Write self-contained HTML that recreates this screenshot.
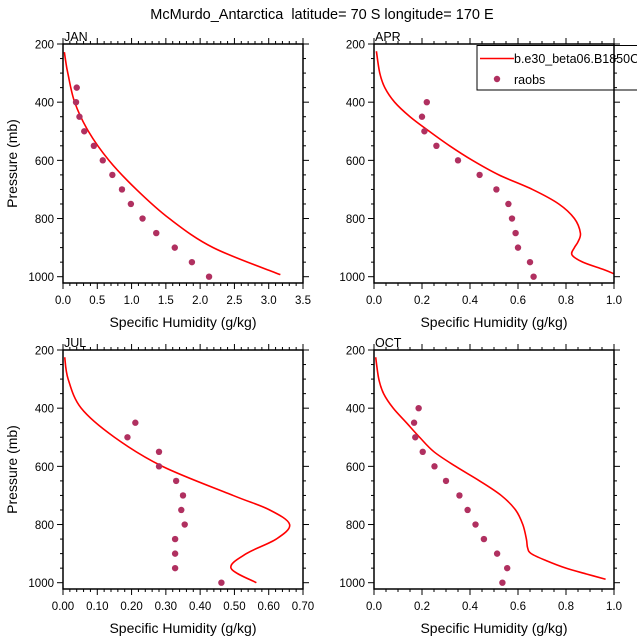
<!DOCTYPE html>
<html><head><meta charset="utf-8"><style>
body{margin:0;background:#fff}
svg{display:block;font-family:"Liberation Sans",sans-serif}
</style></head><body>
<svg id="chart" width="637" height="639" viewBox="0 0 637 639" xmlns="http://www.w3.org/2000/svg">
<text x="322" y="19" text-anchor="middle" font-size="14.5">McMurdo_Antarctica&#160; latitude= 70 S longitude= 170 E</text>
</svg>
<script>
// Pressure levels (mb)
const obsP = [350,400,450,500,550,600,650,700,750,800,850,900,950,1000];
const janObs = [0.20,0.19,0.24,0.31,0.45,0.58,0.72,0.86,0.99,1.16,1.36,1.63,1.88,2.13];
const janModelP = [228,260,300,400,500,600,700,800,900,993];
const janModel = [0.02,0.04,0.07,0.17,0.37,0.67,1.07,1.55,2.19,3.17];

const aprObsP = [400,450,500,550,600,650,700,750,800,850,900,950,1000];
const aprObs = [0.22,0.20,0.21,0.26,0.35,0.44,0.51,0.56,0.575,0.59,0.60,0.65,0.665];
const aprModelP = [225,300,350,400,450,500,550,600,650,700,750,800,850,880,900,925,950,975,990];
const aprModel = [0.01,0.024,0.045,0.086,0.15,0.23,0.315,0.41,0.52,0.66,0.77,0.835,0.86,0.85,0.835,0.825,0.87,0.955,1.0];

const julObsP = [450,500,550,600,650,700,750,800,850,900,950,1000];
const julObs = [0.211,0.188,0.280,0.280,0.330,0.350,0.345,0.355,0.327,0.327,0.327,0.462];
const julModelP = [225,300,400,500,600,700,750,800,850,900,950,1000];
const julModel = [0.005,0.015,0.053,0.15,0.29,0.496,0.603,0.661,0.622,0.535,0.49,0.564];

const octObsP = [400,450,500,550,600,650,700,750,800,850,900,950,1000];
const octObs = [0.186,0.167,0.172,0.203,0.252,0.30,0.356,0.39,0.423,0.458,0.513,0.555,0.535];
const octModelP = [225,300,350,400,450,500,550,600,650,700,750,800,850,880,900,925,950,970,988];
const octModel = [0.007,0.02,0.04,0.08,0.135,0.19,0.25,0.34,0.44,0.53,0.59,0.62,0.635,0.64,0.655,0.72,0.80,0.885,0.965];

const janTicks = ["0.0","0.5","1.0","1.5","2.0","2.5","3.0","3.5"];
const aprTicks = ["0.0","0.2","0.4","0.6","0.8","1.0"];
const julTicks = ["0.00","0.10","0.20","0.30","0.40","0.50","0.60","0.70"];
const yTicks = [200,400,600,800,1000];

const NS="http://www.w3.org/2000/svg";
const svg=document.getElementById('chart');
function mk(tag,attrs,parent){const e=document.createElementNS(NS,tag);for(const k in attrs)e.setAttribute(k,attrs[k]);(parent||svg).appendChild(e);return e;}

const panels=[
 {name:'jan',label:'JAN',x0:63,y0:44,xmax:3.5,xticks:janTicks,major:0.5,minor:0.1,obsP:obsP,obs:janObs,mP:janModelP,m:janModel,left:true},
 {name:'apr',label:'APR',x0:374,y0:44,xmax:1.0,xticks:aprTicks,major:0.2,minor:0.05,obsP:aprObsP,obs:aprObs,mP:aprModelP,m:aprModel,legend:true},
 {name:'jul',label:'JUL',x0:63,y0:350,xmax:0.7,xticks:julTicks,major:0.1,minor:0.02,obsP:julObsP,obs:julObs,mP:julModelP,m:julModel,left:true},
 {name:'oct',label:'OCT',x0:374,y0:350,xmax:1.0,xticks:aprTicks,major:0.2,minor:0.05,obsP:octObsP,obs:octObs,mP:octModelP,m:octModel}
];
const W=240,H=239,PS=232.7/800;

function smooth(pts){
 let d='M'+pts[0][0].toFixed(2)+','+pts[0][1].toFixed(2);
 for(let i=0;i<pts.length-1;i++){
  const p0=pts[Math.max(0,i-1)],p1=pts[i],p2=pts[i+1],p3=pts[Math.min(pts.length-1,i+2)];
  const c1=[p1[0]+(p2[0]-p0[0])/6,p1[1]+(p2[1]-p0[1])/6];
  const c2=[p2[0]-(p3[0]-p1[0])/6,p2[1]-(p3[1]-p1[1])/6];
  d+='C'+c1[0].toFixed(2)+','+c1[1].toFixed(2)+' '+c2[0].toFixed(2)+','+c2[1].toFixed(2)+' '+p2[0].toFixed(2)+','+p2[1].toFixed(2);
 }
 return d;
}

panels.forEach(p=>{
 const g=mk('g',{});
 
 
 const sx=v=>p.x0+v/p.xmax*W;
 const sy=v=>p.y0+(v-200)*PS;
 const clipId='clip-'+p.name;
 const cp=mk('clipPath',{id:clipId},g);
 mk('rect',{x:p.x0,y:p.y0,width:W,height:H},cp);
 const pts=p.mP.map((pp,i)=>[sx(p.m[i]),sy(pp)]);
 const line=mk('path',{d:smooth(pts),fill:'none',stroke:'#ff0000','stroke-width':1.6,'clip-path':'url(#'+clipId+')'},g);
 
 
 p.obsP.forEach((pp,i)=>{
  const c=mk('circle',{cx:sx(p.obs[i]),cy:sy(pp),r:3.2,fill:'#b03060'},g);
  
  
 });
 if(p.legend){
  const lg=mk('g',{},g);
  
  
  mk('rect',{x:477,y:45.5,width:200,height:44.5,fill:'#fff',stroke:'#000','stroke-width':1},lg);
  mk('line',{x1:480,y1:58.5,x2:514,y2:58.5,stroke:'#ff0000','stroke-width':1.6},lg);
  const t1=mk('text',{x:514,y:63,'font-size':12.5},lg);t1.textContent='b.e30_beta06.B1850C';
  
  
  mk('circle',{cx:497,cy:79,r:3.2,fill:'#b03060'},lg);
  const t2=mk('text',{x:514,y:84,'font-size':12.5},lg);t2.textContent='raobs';
  
  
 }
 const fr=mk('rect',{x:p.x0,y:p.y0,width:W,height:H,fill:'none',stroke:'#000','stroke-width':1.5},g);
 
 
 const nMin=Math.round(p.xmax/p.minor);
 for(let i=0;i<=nMin;i++){
  const v=i*p.minor, x=sx(v);
  const isMaj=Math.abs(v/p.major-Math.round(v/p.major))<1e-6;
  const L=isMaj?6:3;
  mk('line',{x1:x,y1:p.y0+H,x2:x,y2:p.y0+H+L,stroke:'#000','stroke-width':1},g);
  mk('line',{x1:x,y1:p.y0,x2:x,y2:p.y0-L,stroke:'#000','stroke-width':1},g);
 }
 p.xticks.forEach((lab,i)=>{
  const t=mk('text',{x:sx(i*p.major),y:p.y0+H+21,'text-anchor':'middle','font-size':11.5},g);
  t.textContent=lab;
  
  
 });
 for(let v=200;v<=1000;v+=50){
  const y=sy(v), L=(v%200===0)?6:3;
  mk('line',{x1:p.x0,y1:y,x2:p.x0-L,y2:y,stroke:'#000','stroke-width':1},g);
  mk('line',{x1:p.x0+W,y1:y,x2:p.x0+W+L,y2:y,stroke:'#000','stroke-width':1},g);
 }
 yTicks.forEach(v=>{
  const t=mk('text',{x:p.x0-9,y:sy(v)+4.5,'text-anchor':'end','font-size':11.5},g);
  t.textContent=v;
  
  
 });
 const xt=mk('text',{x:p.x0+W/2,y:p.y0+H+44,'text-anchor':'middle','font-size':14},g);
 xt.textContent='Specific Humidity (g/kg)';
 
 
 const lb=mk('text',{x:p.x0+1,y:p.y0-3,'font-size':12.5},g);
 lb.textContent=p.label;
 
 
 if(p.left){
  const cy=p.y0+H/2;
  const yt=mk('text',{x:17,y:cy,'text-anchor':'middle','font-size':14,transform:'rotate(-90 17 '+cy+')'},g);
  yt.textContent='Pressure (mb)';
  
  
 }
});
</script>
</body></html>
